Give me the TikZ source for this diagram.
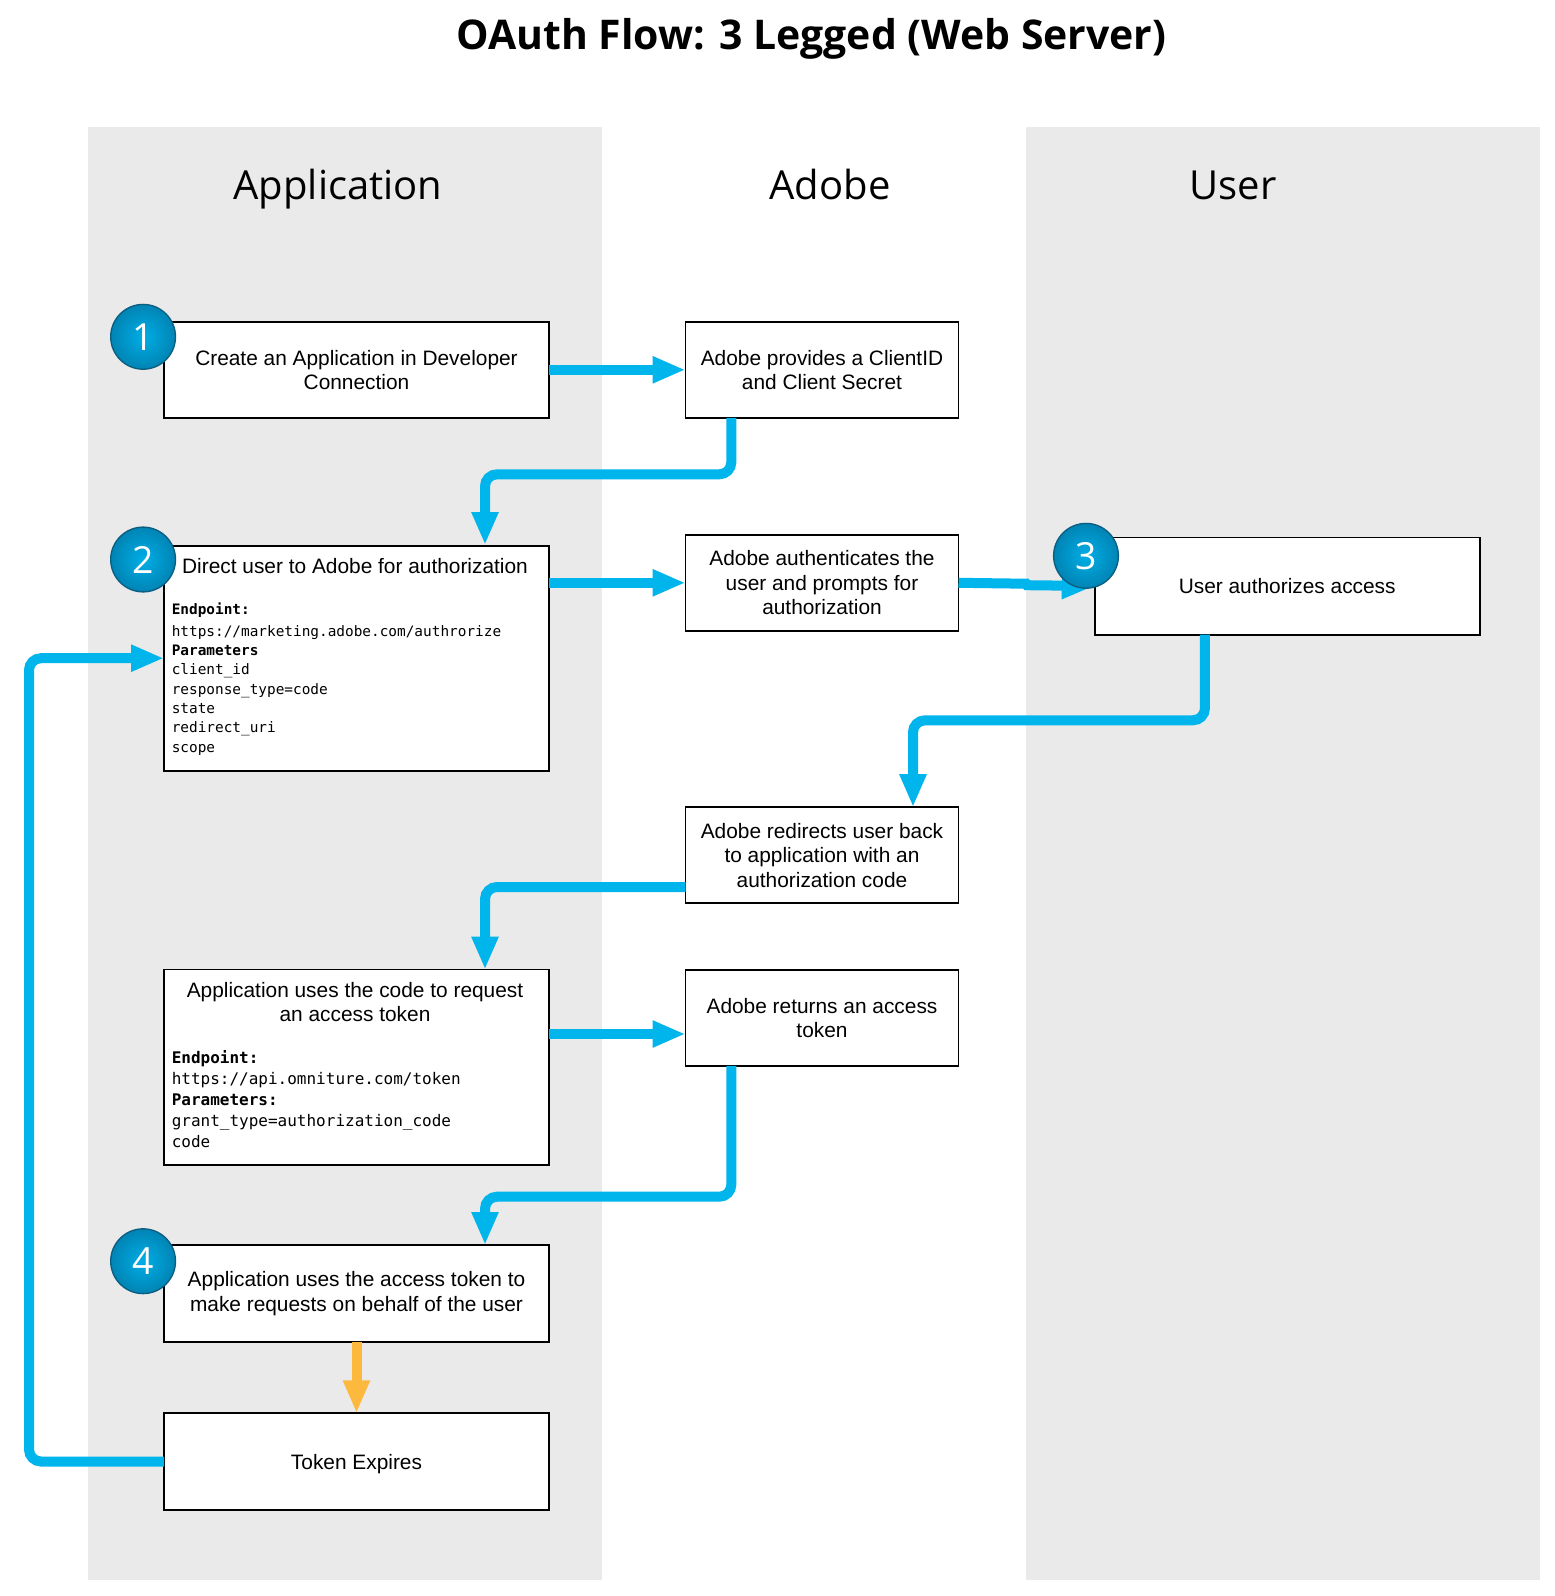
\documentclass[tikz,border=0pt]{standalone}
\usepackage{fontspec}
\setmainfont{Liberation Sans}
\newfontfamily\headfont{Open Sans}
\newfontfamily\codefont{DejaVu Sans Mono}
\usetikzlibrary{arrows.meta,calc,shadings}
\definecolor{panelgrey}{HTML}{EAEAEA}
\definecolor{flowblue}{HTML}{00B5EC}
\definecolor{floworange}{HTML}{FDB93E}
\definecolor{badgein}{HTML}{00AEE6}
\definecolor{badgeout}{HTML}{0084B4}
\definecolor{badgeline}{HTML}{0B5E80}
\tikzset{
  x=0.75pt,y=-0.75pt,
  appbox/.style={draw=black,fill=white,line width=1.25pt,inner sep=0pt,outer sep=0pt,minimum width=288.75pt,align=center,font=\fontsize{15.65}{18.35}\selectfont},
  adobebox/.style={appbox,minimum width=204.75pt,minimum height=72pt},
  flow/.style={line width=7.5pt,draw=flowblue,rounded corners=9pt,-{Triangle[length=24.75pt,width=18.75pt,fill=flowblue]}},
  flowwarn/.style={flow,draw=floworange,-{Triangle[length=24.75pt,width=18.75pt,fill=floworange]}},
  badge/.style={circle,draw=badgeline,line width=1pt,inner color=badgein,outer color=badgeout,minimum size=48.6pt,inner sep=0pt,outer sep=0pt,text=white,font=\headfont\fontsize{28}{28}\selectfont},
  lanehead/.style={font=\headfont\fontsize{30}{34}\selectfont,inner sep=0pt,anchor=base},
  codeblock/.style={anchor=north west,inner sep=0pt,align=left,font=\codefont\fontsize{10.8}{14.5}\selectfont},
  headtext/.style={inner sep=0pt,align=center,font=\fontsize{15.65}{18.35}\selectfont},
}
\begin{document}
\begin{tikzpicture}
\useasboundingbox (0,0) rectangle (1555,1596);
\fill[white] (0,0) rectangle (1555,1596);
\fill[panelgrey] (87.6,127) rectangle (602,1580);
\fill[panelgrey] (1026,127) rectangle (1540,1580);
\node[font=\headfont\bfseries\fontsize{30.7}{36}\selectfont,inner sep=0pt] (title) at (811.5,38.5) {OAuth Flow: 3 Legged (Web Server)};
\node[lanehead] (happ) at (338,199.5) {Application};
\node[lanehead] (hado) at (830,199.5) {Adobe};
\node[lanehead] (huser) at (1233,199.5) {User};

\node[appbox,minimum height=72pt] (b1) at (356.5,369.8) {Create an Application in Developer\\Connection};
\node[appbox,minimum height=168.75pt] (b2) at (356.5,658.2) {};
\node[appbox,minimum height=146.5pt] (b3) at (356.5,1067.3) {};
\node[appbox,minimum height=72.3pt] (b4) at (356.5,1293.5) {Application uses the access token to\\make requests on behalf of the user};
\node[appbox,minimum height=72.3pt,text depth=0pt] (tok) at (356.5,1461.5) {Token Expires};
\node[adobebox] (a1) at (822,369.8) {Adobe provides a ClientID\\and Client Secret};
\node[adobebox] (a2) at (822,582.8) {Adobe authenticates the\\user and prompts for\\authorization};
\node[adobebox] (a3) at (822,855.2) {Adobe redirects user back\\to application with an\\authorization code};
\node[adobebox] (a4) at (822,1017.8) {Adobe returns an access\\token};
\node[appbox,minimum height=73pt] (u) at (1287.2,586) {User authorizes access};

\node[headtext] (b2head) at (355,566) {Direct user to Adobe for authorization};
\node[codeblock] (b2code) at (171.5,603) {\textbf{Endpoint:}\\[1.5pt]https://marketing.adobe.com/authrorize\\\textbf{Parameters}\\client\_id\\response\_type=code\\state\\redirect\_uri\\scope};
\node[headtext] (b3head) at (355,1002) {Application uses the code to request\\an access token};
\node[codeblock,font=\codefont\fontsize{12}{15.7}\selectfont] (b3code) at (171.5,1050) {\textbf{Endpoint:}\\https://api.omniture.com/token\\\textbf{Parameters:}\\grant\_type=authorization\_code\\code};

\draw[flow] (b1.east) -- (b1.east -| a1.west);
\draw[flow] ([xshift=-68pt]a1.south) |- (485,474.3) -- (485,545);
\draw[flow] (b2.east |- a2.west) -- (a2.west);
\draw[flow,rounded corners=0pt] (a2.east) -- (1026,583.7) -- (1027,585.2) -- (u.west);
\draw[flow] ([xshift=-61.7pt]u.south) |- (913,720.3) -- ([xshift=68.25pt]a3.north);
\draw[flow] (a3.west |- 0,887) -| (485,969.6);
\draw[flow] (b3.east |- 0,1034) -- (a4.west |- 0,1034);
\draw[flow] ([xshift=-68pt]a4.south) |- (485,1196.7) -- (485,1245);
\draw[flowwarn] (b4.south) -- (tok.north);
\draw[flow] (tok.west) -- (29,1461.5) |- (b2.west);

\node[badge] (n1) at (143.1,336.8) {1};
\node[badge] (n2) at (143.1,559.5) {2};
\node[badge] (n3) at (1086,555.8) {3};
\node[badge] (n4) at (143.1,1261.2) {4};
\end{tikzpicture}
\end{document}
